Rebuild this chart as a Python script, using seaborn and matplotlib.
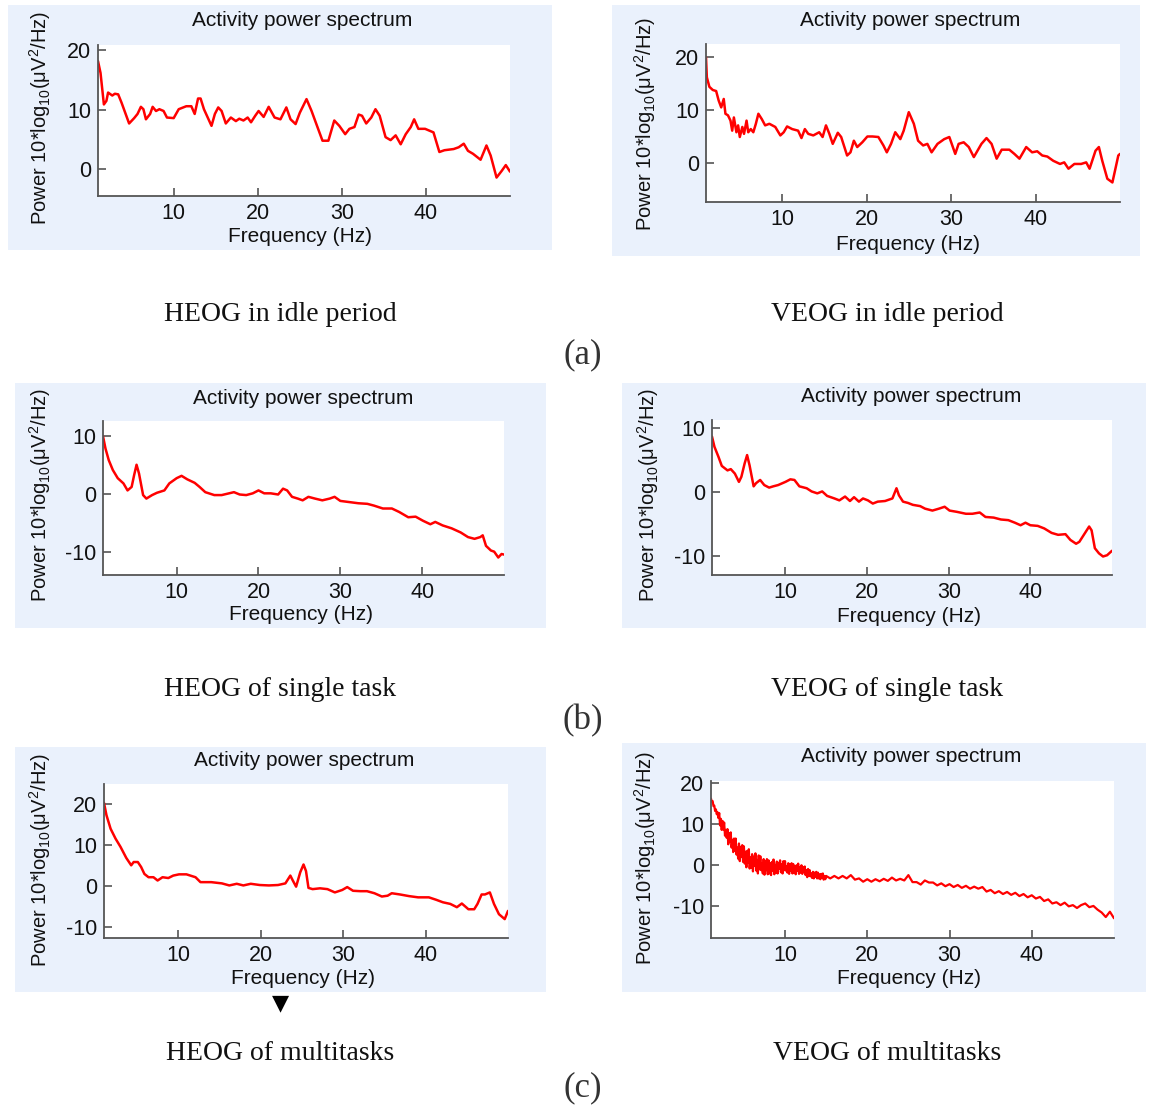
import matplotlib
matplotlib.use("Agg")
import matplotlib.pyplot as plt
from matplotlib.patches import Rectangle
import seaborn as sns
import pandas as pd

# ---------------- data ----------------
p1_hz = [1.0, 1.3, 1.7, 2.0, 2.2, 2.7, 3.0, 3.4, 3.8, 4.7, 5.3, 5.7, 6.1, 6.4, 6.7, 7.2, 7.5, 7.9, 8.3, 8.8,
         9.2, 10.0, 10.6, 11.5, 12.1, 12.5, 12.9, 13.2, 13.6, 14.5, 14.9, 15.3, 15.7, 16.2, 16.8, 17.4, 17.8,
         18.3, 18.8, 19.2, 19.7, 20.1, 20.7, 21.3, 22.0, 22.7, 23.4, 23.9, 24.5, 25.0, 25.8, 26.4, 27.1, 27.7,
         28.4, 29.1, 29.7, 30.4, 30.9, 31.5, 32.0, 32.4, 32.9, 33.5, 34.0, 34.5, 35.2, 35.8, 36.4, 37.0, 37.6,
         38.2, 38.6, 39.1, 39.9, 40.9, 41.6, 42.2, 43.3, 43.9, 44.5, 45.0, 45.6, 46.5, 47.2, 47.7, 48.4, 49.0,
         49.5, 50.0]
p1_db = [18.2, 16.2, 10.9, 11.5, 12.9, 12.4, 12.7, 12.6, 11.2, 7.7, 8.6, 9.3, 10.5, 10.1, 8.4, 9.3, 10.5, 9.8,
         10.1, 9.8, 8.7, 8.6, 10.1, 10.6, 10.6, 9.3, 11.9, 11.9, 10.1, 7.3, 9.3, 10.4, 9.8, 7.7, 8.7, 8.1, 8.5,
         8.2, 8.7, 7.9, 9.0, 9.8, 8.8, 10.5, 8.7, 8.4, 10.4, 8.4, 7.6, 9.5, 11.8, 9.8, 7.1, 4.8, 4.8, 8.2, 7.3,
         5.9, 6.8, 7.1, 9.2, 9.0, 7.7, 8.7, 10.1, 9.0, 5.4, 4.9, 5.7, 4.2, 5.9, 7.1, 8.4, 6.8, 6.8, 6.2, 2.9,
         3.2, 3.4, 3.7, 4.3, 3.1, 2.6, 1.6, 4.0, 2.3, -1.4, -0.3, 0.7, -0.4]

p2_hz = [1.0, 1.1, 1.4, 1.8, 2.2, 2.5, 2.8, 3.1, 3.3, 3.6, 3.9, 4.1, 4.3, 4.6, 4.8, 5.0, 5.3, 5.5, 5.8, 6.0,
         6.3, 6.6, 6.9, 7.2, 7.6, 8.0, 8.5, 9.2, 9.8, 10.2, 10.6, 11.2, 11.9, 12.3, 12.7, 13.1, 13.7, 14.4,
         14.8, 15.2, 15.6, 16.0, 16.6, 17.0, 17.7, 18.1, 18.5, 18.9, 19.5, 20.1, 20.7, 21.4, 22.0, 22.4, 22.9,
         23.4, 24.0, 24.4, 25.0, 25.6, 26.1, 26.7, 27.2, 27.7, 28.4, 29.2, 29.8, 30.5, 30.9, 31.5, 32.1, 32.7,
         33.6, 34.2, 34.8, 35.4, 36.0, 36.9, 37.5, 38.1, 38.9, 39.6, 40.2, 40.8, 41.4, 42.1, 42.9, 43.4, 43.9,
         44.6, 45.4, 46.0, 46.4, 47.1, 47.5, 47.9, 48.5, 49.1, 49.5, 49.8, 50.0]
p2_db = [20.0, 16.2, 14.4, 13.8, 13.6, 11.8, 10.5, 12.1, 9.3, 9.0, 8.0, 6.1, 8.6, 5.8, 7.1, 4.9, 6.8, 5.5, 8.0,
         5.8, 6.4, 5.8, 7.4, 9.3, 8.3, 7.1, 7.4, 6.8, 5.2, 5.8, 6.9, 6.4, 6.1, 4.7, 6.4, 5.5, 5.2, 5.8, 4.9,
         7.1, 5.5, 3.6, 5.7, 4.9, 1.4, 2.0, 4.2, 3.0, 3.9, 5.0, 5.0, 4.9, 3.3, 2.0, 3.6, 5.8, 4.5, 6.1, 9.6,
         7.4, 4.2, 3.3, 3.6, 2.0, 3.6, 4.5, 4.9, 1.7, 3.6, 3.9, 3.0, 1.1, 3.6, 4.7, 3.6, 0.8, 2.5, 2.5, 1.7,
         0.8, 3.0, 2.0, 2.2, 1.4, 1.2, 0.4, -0.2, 0.1, -1.1, -0.2, -0.2, 0.1, -1.1, 2.3, 3.0, 0.4, -3.0, -3.7,
         -0.8, 1.4, 1.7]

p3_hz = [1.0, 1.3, 1.7, 2.2, 2.8, 3.5, 4.0, 4.5, 4.8, 5.1, 5.4, 5.9, 6.3, 7.0, 7.6, 8.5, 9.1, 10.0, 10.6, 11.3,
         12.2, 12.8, 13.5, 14.6, 15.5, 16.4, 17.0, 17.7, 18.5, 19.3, 20.0, 20.7, 21.5, 22.4, 23.0, 23.5, 24.1,
         24.8, 25.4, 26.1, 26.9, 27.8, 28.7, 29.3, 30.0, 31.1, 32.2, 33.3, 34.1, 35.2, 36.3, 37.2, 38.3, 39.2,
         40.1, 41.0, 41.6, 42.5, 43.6, 44.7, 45.6, 46.4, 47.1, 47.4, 47.8, 48.4, 48.8, 49.3, 49.7, 50.0]
p3_db = [9.9, 7.8, 5.8, 4.1, 2.7, 1.8, 0.6, 1.2, 3.2, 5.0, 3.5, -0.2, -0.8, -0.2, 0.2, 0.6, 1.8, 2.7, 3.1, 2.5,
         1.9, 1.2, 0.3, -0.2, -0.2, 0.1, 0.3, -0.1, -0.2, 0.1, 0.6, 0.1, 0.1, -0.1, 0.9, 0.6, -0.5, -0.8, -1.1,
         -0.5, -0.8, -1.1, -0.8, -0.5, -1.2, -1.4, -1.6, -1.7, -2.0, -2.5, -2.5, -3.1, -4.0, -3.9, -4.6, -5.2,
         -4.8, -5.4, -5.9, -6.6, -7.4, -7.7, -7.4, -7.1, -8.9, -9.7, -9.9, -10.9, -10.3, -10.4]

p4_hz = [1.0, 1.3, 1.8, 2.2, 2.9, 3.3, 3.8, 4.3, 4.6, 5.0, 5.3, 5.6, 6.1, 6.4, 6.9, 7.4, 8.0, 8.5, 9.1, 10.0,
         10.6, 11.1, 11.7, 12.6, 13.2, 13.9, 14.5, 15.1, 16.0, 16.6, 17.3, 17.9, 18.4, 19.0, 19.5, 20.1, 20.7,
         21.3, 22.2, 23.1, 23.6, 23.9, 24.4, 25.0, 25.6, 26.5, 27.1, 28.0, 28.8, 29.5, 30.1, 31.0, 32.1, 32.9,
         33.8, 34.5, 35.5, 36.4, 37.3, 38.1, 38.8, 39.4, 40.0, 40.9, 41.7, 42.6, 43.4, 44.3, 44.9, 45.6, 46.0,
         46.6, 47.2, 47.5, 47.9, 48.4, 48.9, 49.4, 50.0]
p4_db = [8.7, 7.1, 5.5, 4.1, 3.4, 3.6, 2.9, 1.6, 2.4, 4.5, 5.8, 4.2, 0.9, 1.4, 1.9, 1.1, 0.7, 0.9, 1.1, 1.6,
         2.0, 1.9, 0.9, 0.6, 0.1, -0.2, 0.1, -0.6, -1.0, -1.3, -0.7, -1.4, -0.8, -1.5, -1.0, -1.3, -1.8, -1.5,
         -1.4, -1.0, 0.6, -0.5, -1.5, -1.7, -2.0, -2.2, -2.6, -2.9, -2.6, -2.3, -2.9, -3.1, -3.4, -3.4, -3.2,
         -3.9, -4.0, -4.3, -4.4, -4.8, -5.2, -4.8, -5.2, -5.3, -5.7, -6.4, -6.7, -6.6, -7.5, -8.1, -7.8, -6.6,
         -5.4, -6.0, -8.8, -9.6, -10.1, -9.9, -9.2]

p5_hz = [1.0, 1.3, 1.8, 2.4, 3.0, 3.7, 4.3, 4.6, 5.1, 5.5, 5.9, 6.4, 7.0, 7.5, 8.1, 8.8, 9.4, 10.1, 11.0, 12.1,
         12.7, 14.0, 15.3, 16.2, 17.1, 17.9, 18.8, 19.9, 21.0, 22.1, 23.0, 23.6, 23.9, 24.3, 24.8, 25.2, 25.5,
         25.8, 26.3, 27.2, 28.1, 29.0, 29.9, 30.5, 31.2, 32.1, 32.9, 33.8, 34.7, 35.4, 35.9, 36.9, 38.0, 39.1,
         40.4, 41.3, 42.1, 43.0, 43.8, 44.4, 45.2, 45.9, 46.3, 46.8, 47.2, 47.8, 48.3, 48.9, 49.6, 50.0]
p5_db = [20.3, 17.3, 14.0, 11.6, 9.6, 6.9, 5.1, 5.9, 5.9, 4.7, 3.0, 2.2, 2.2, 1.4, 2.2, 2.0, 2.6, 2.9, 2.9, 2.2,
         1.0, 1.0, 0.7, 0.2, 0.6, 0.2, 0.6, 0.3, 0.2, 0.3, 0.7, 2.6, 1.4, -0.1, 3.4, 5.3, 3.7, -0.4, -0.7, -0.5,
         -0.7, -1.5, -0.9, -0.2, -1.1, -1.2, -1.2, -1.7, -2.5, -2.3, -1.7, -2.0, -2.4, -2.7, -2.7, -3.3, -3.9,
         -4.3, -5.1, -4.2, -5.6, -5.6, -4.3, -2.0, -2.0, -1.5, -4.3, -6.8, -8.0, -6.0]

# panel 6: noisy spectrum, dense readings 1-15 Hz, coarser afterwards
p6_hz = [1.0, 1.1, 1.2, 1.3, 1.4, 1.5, 1.6, 1.7, 1.8, 1.9,
         2.0, 2.1, 2.2, 2.3, 2.4, 2.5, 2.6, 2.7, 2.8, 2.9,
         3.0, 3.1, 3.2, 3.3, 3.4, 3.5, 3.6, 3.7, 3.8, 3.9,
         4.0, 4.1, 4.2, 4.3, 4.4, 4.5, 4.6, 4.7, 4.8, 4.9,
         5.0, 5.1, 5.2, 5.3, 5.4, 5.5, 5.6, 5.7, 5.8, 5.9,
         6.0, 6.1, 6.2, 6.3, 6.4, 6.5, 6.6, 6.7, 6.8, 6.9,
         7.0, 7.1, 7.2, 7.3, 7.4, 7.5, 7.6, 7.7, 7.8, 7.9,
         8.0, 8.1, 8.2, 8.3, 8.4, 8.5, 8.6, 8.7, 8.8, 8.9,
         9.0, 9.1, 9.2, 9.3, 9.4, 9.5, 9.6, 9.7, 9.8, 9.9,
         10.0, 10.1, 10.2, 10.3, 10.4, 10.5, 10.6, 10.7, 10.8, 10.9,
         11.0, 11.1, 11.2, 11.3, 11.4, 11.5, 11.6, 11.7, 11.8, 11.9,
         12.0, 12.1, 12.2, 12.3, 12.4, 12.5, 12.6, 12.7, 12.8, 12.9,
         13.0, 13.1, 13.2, 13.3, 13.4, 13.5, 13.6, 13.7, 13.8, 13.9,
         14.0, 14.1, 14.2, 14.3, 14.4, 14.5, 14.6, 14.7, 14.8, 14.9,
         15.0, 15.5, 16.0, 16.5, 17.0, 17.5, 18.0, 18.5, 19.0, 19.5,
         20.0, 20.5, 21.0, 21.5, 22.0, 22.5, 23.0, 23.5, 24.0, 24.5,
         25.0, 25.5, 26.0, 26.5, 27.0, 27.5, 28.0, 28.5, 29.0, 29.5,
         30.0, 30.5, 31.0, 31.5, 32.0, 32.5, 33.0, 33.5, 34.0, 34.5,
         35.0, 35.5, 36.0, 36.5, 37.0, 37.5, 38.0, 38.5, 39.0, 39.5,
         40.0, 40.5, 41.0, 41.5, 42.0, 42.5, 43.0, 43.5, 44.0, 44.5,
         45.0, 45.5, 46.0, 46.5, 47.0, 47.5, 48.0, 48.5, 49.0, 49.5, 50.0]
p6_db = [16.2, 15.5, 15.6, 14.4, 14.5, 13.2, 13.6, 12.4, 12.9, 11.5,
         12.7, 9.7, 11.3, 8.6, 10.8, 8.7, 10.4, 7.2, 8.6, 6.7,
         8.8, 5.1, 7.8, 5.8, 8.0, 4.3, 6.2, 3.2, 6.5, 3.5,
         6.5, 2.6, 4.3, 1.6, 5.3, 1.0, 4.5, 2.0, 4.9, 0.8,
         4.6, 0.4, 3.3, -0.5, 3.5, 0.7, 3.9, -0.8, 1.9, -0.6,
         2.7, -1.5, 2.1, -0.1, 2.9, -1.3, 1.3, -2.0, 2.4, -1.0,
         2.2, -1.2, 0.4, -2.0, 1.5, -2.3, 1.0, -1.2, 1.5, -2.2,
         1.2, -2.0, 0.5, -2.4, 0.8, -1.3, 1.4, -2.2, 0.1, -1.8,
         0.9, -2.0, 0.6, -0.9, 1.2, -1.7, 0.2, -2.0, 1.0, -1.2,
         1.0, -1.3, -0.2, -1.8, 0.5, -2.1, 0.2, -1.3, 0.5, -2.0,
         0.3, -1.9, -0.3, -2.2, 0.0, -1.4, 0.4, -2.1, -0.5, -1.8,
         0.0, -2.1, -0.5, -1.6, -0.3, -2.4, -1.2, -2.9, -0.9, -2.6,
         -1.2, -2.7, -2.0, -3.1, -1.6, -3.2, -1.8, -2.8, -1.6, -3.2,
         -1.8, -3.2, -2.2, -3.4, -2.1, -3.0, -2.0, -3.5, -2.6, -3.4,
         -2.6, -3.2, -2.6, -3.2, -2.6, -3.2, -2.4, -3.5, -3.2, -4.0,
         -3.4, -4.0, -3.4, -3.9, -3.3, -3.8, -3.0, -3.7, -3.3, -3.7,
         -2.4, -4.1, -4.1, -4.7, -3.7, -4.2, -4.2, -4.9, -4.4, -5.1,
         -4.6, -5.3, -4.8, -5.5, -5.0, -5.7, -5.2, -5.7, -5.3, -6.4,
         -6.0, -6.8, -6.3, -7.0, -6.5, -7.2, -6.7, -7.5, -7.0, -7.8,
         -7.3, -8.1, -7.7, -8.7, -8.3, -9.3, -9.0, -9.7, -9.1, -10.0,
         -9.7, -10.4, -9.7, -9.3, -10.2, -9.9, -10.8, -11.5, -12.6, -11.3, -12.9]

x_ticks = [10, 20, 30, 40]
panel_yticks = [[0, 10, 20], [0, 10, 20], [-10, 0, 10], [-10, 0, 10], [-10, 0, 10, 20], [-10, 0, 10, 20]]
panel_ylims = [(-4.5, 20.9), (-7.4, 22.5), (-13.9, 12.5), (-13.0, 11.3), (-12.6, 24.9), (-17.7, 20.5)]
panel_titles = ["Activity power spectrum"] * 6
captions = ["HEOG in idle period", "VEOG in idle period", "HEOG of single task",
            "VEOG of single task", "HEOG of multitasks", "VEOG of multitasks"]
group_labels = ["(a)", "(b)", "(c)"]
x_label = "Frequency (Hz)"
y_label = "Power 10*log$_{10}$(μV$^{2}$/Hz)"

series = [(p1_hz, p1_db), (p2_hz, p2_db), (p3_hz, p3_db),
          (p4_hz, p4_db), (p5_hz, p5_db), (p6_hz, p6_db)]

# ---------------- layout (pixels) ----------------
W, H = 1151, 1107
sns.set_theme(style="white")
plt.rcParams["font.family"] = ["Liberation Sans", "DejaVu Sans"]
plt.rcParams["mathtext.fontset"] = "custom"
plt.rcParams["mathtext.rm"] = "Liberation Sans"
plt.rcParams["mathtext.it"] = "Liberation Sans:italic"
plt.rcParams["mathtext.bf"] = "Liberation Sans:bold"
plt.rcParams["axes.unicode_minus"] = False

fig = plt.figure(figsize=(W / 100, H / 100), dpi=100)
fig.patch.set_facecolor("white")


def fx(px):
    return px / W


def fy(py):
    return 1 - py / H


# axes boxes: left, right, top, bottom
axes_px = [(98, 510, 45, 196), (706, 1120, 44, 202), (103, 504, 421, 575),
           (712, 1112, 420, 575), (104, 508, 784, 938), (711, 1114, 781, 938)]
# light-blue panels: x0, x1, y0, y1
bg_px = [(8, 552, 5, 250), (612, 1140, 5, 256), (15, 546, 383, 628),
         (622, 1146, 383, 628), (15, 546, 747, 992), (622, 1146, 743, 992)]
title_px = [(302, 20), (910, 20), (303, 398), (911, 397), (304, 761), (911, 757)]
xlabel_px = [(300, 237), (908, 244), (301, 615), (909, 616), (303, 978), (909, 979)]
ylabel_px = [(40, 118), (645, 124), (40, 495), (648, 495), (40, 860), (645, 858)]
caption_px = [(280, 314), (887, 314), (280, 689), (887, 689), (280, 1053), (887, 1053)]
group_px = [(583, 355), (583, 721), (583, 1088)]

bg_color = "#EAF1FC"

for i in range(6):
    x0, x1, y0, y1 = bg_px[i]
    fig.add_artist(Rectangle((fx(x0), fy(y1)), (x1 - x0) / W, (y1 - y0) / H,
                             transform=fig.transFigure, facecolor=bg_color,
                             edgecolor="none", zorder=-10))
    l, r, t, b = axes_px[i]
    ax = fig.add_axes([fx(l), fy(b), (r - l) / W, (b - t) / H])
    ax.set_facecolor("white")
    hz, db = series[i]
    df = pd.DataFrame({"hz": hz, "db": db})
    lw = 1.6 if i == 5 else 1.8
    sns.lineplot(data=df, x="hz", y="db", ax=ax, color="red", linewidth=lw,
                 sort=False, estimator=None)
    ax.set_xlim(1, 50)
    ax.set_ylim(*panel_ylims[i])
    ax.set_xticks(x_ticks)
    ax.set_yticks(panel_yticks[i])
    ax.set_xlabel("")
    ax.set_ylabel("")
    for s in ["top", "right"]:
        ax.spines[s].set_visible(False)
    for s in ["left", "bottom"]:
        ax.spines[s].set_color("#555555")
        ax.spines[s].set_linewidth(1.3)
    ax.tick_params(axis="both", direction="in", length=6, width=1.2, color="#555555",
                   labelsize=15.5, labelcolor="#111111", pad=5, left=True, bottom=True)

    tx, ty = title_px[i]
    fig.text(fx(tx), fy(ty), panel_titles[i], ha="center", va="center", fontsize=15, color="#111111")
    lx, ly = xlabel_px[i]
    fig.text(fx(lx), fy(ly), x_label, ha="center", va="center", fontsize=15, color="#111111")
    yx, yy = ylabel_px[i]
    fig.text(fx(yx), fy(yy), y_label, ha="center", va="center", rotation=90, fontsize=14.5,
             color="#111111")
    cx, cy = caption_px[i]
    fig.text(fx(cx), fy(cy), captions[i], ha="center", va="center", fontsize=20,
             family="Liberation Serif", color="#111111")

for j in range(3):
    gx, gy = group_px[j]
    fig.text(fx(gx), fy(gy), group_labels[j], ha="center", va="center", fontsize=25,
             family="Liberation Serif", color="#333333")

# downward black triangle under the bottom-left panel
fig.text(fx(281), fy(1003), "▼", ha="center", va="center", fontsize=16,
         family="DejaVu Sans", color="black")

fig.savefig("out.png", dpi=100, facecolor="white")
